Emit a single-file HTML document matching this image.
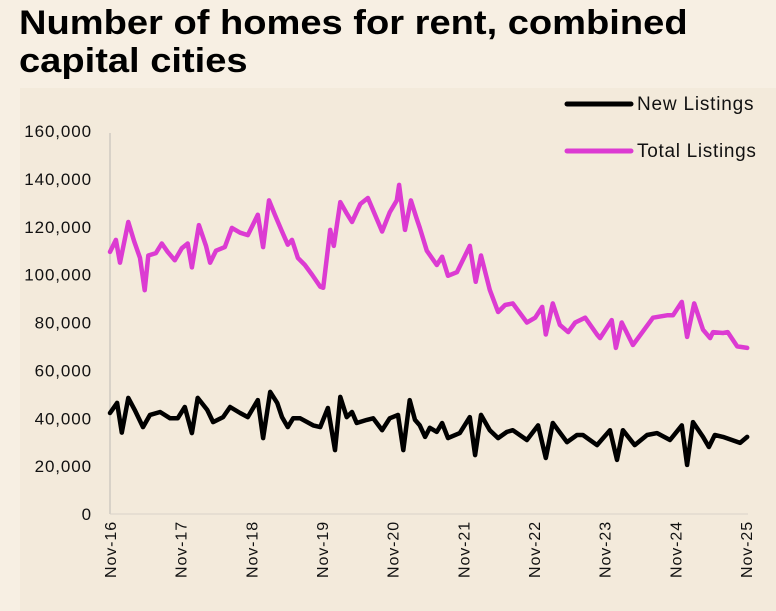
<!DOCTYPE html>
<html><head><meta charset="utf-8"><style>
html,body{margin:0;padding:0;background:#f7efe3;}
body{width:776px;height:611px;overflow:hidden;font-family:"Liberation Sans",sans-serif;}
#title{position:absolute;left:19px;top:4px;font-size:34px;font-weight:bold;line-height:38px;color:#000;transform-origin:0 0;transform:scaleX(1.12);white-space:nowrap;}
svg{position:absolute;left:0;top:0;}
</style></head><body>
<svg id="chart" width="776" height="611"></svg>
<div id="title">Number of homes for rent, combined<br>capital cities</div>
<script>
const xTickLabels=["Nov-16","Nov-17","Nov-18","Nov-19","Nov-20","Nov-21","Nov-22","Nov-23","Nov-24","Nov-25"];
const yTicks=[0,20000,40000,60000,80000,100000,120000,140000,160000];
const yTickLabels=["0","20,000","40,000","60,000","80,000","100,000","120,000","140,000","160,000"];
const totalMonths=[0,1.0,1.7,3.1,4.1,5.1,5.9,6.5,7.8,8.8,9.8,11.0,12.2,13.2,13.9,15.1,16.3,17.0,18.0,19.5,20.7,22.1,23.4,25.1,26.0,27.0,28.0,29.2,30.2,30.9,31.9,33.1,34.3,35.7,36.2,37.4,38.0,39.1,40.1,41.1,42.5,43.8,45.0,46.2,47.5,48.7,49.1,50.1,51.1,52.0,52.6,53.8,55.5,56.4,57.4,58.9,61.1,62.1,63.0,64.5,65.9,67.1,68.4,70.8,72.2,73.4,74.0,75.2,76.4,77.8,79.0,80.7,82.7,83.2,85.2,85.9,86.9,88.8,92.2,94.6,95.6,97.1,98.0,99.2,100.7,101.9,102.4,104.1,104.9,106.5,108.2];
const totalValues=[109.5,114.5,105,122,114,107,93.5,108,109,113,109.5,106,111,113,103,120.7,112,105,110,111.5,119.5,117.5,116.5,125,111.5,131,125,118,112.5,114.5,107,104,100,95,94.5,118.7,112,130.3,126,122,129.5,132,125,118,126,131,137.5,118.7,131,124,119.5,110,104,107.5,99.5,101,112,97,108,93.6,84.4,87.3,88,80,82,86.5,75,88,79,76,80,82,75,73.5,81,69.4,80,70.6,82,83,83,88.6,74,88,77,73.5,76,75.6,76,70,69.4];
const newMonths=[0,1.2,2.0,3.1,4.2,5.6,6.8,8.5,10.2,11.5,12.7,13.9,14.9,16.5,17.5,19.2,20.4,22.1,23.4,25.1,26.0,27.2,28.4,29.2,30.2,31.1,32.3,34.5,35.7,37.0,38.2,39.1,40.2,41.1,41.9,43.6,44.7,46.2,47.5,48.9,49.8,50.9,51.8,52.6,53.5,54.3,55.5,56.4,57.4,59.4,61.1,62.0,63.0,64.5,65.9,67.4,68.4,70.8,72.7,74.0,75.2,77.6,79.3,80.3,82.7,84.9,86.1,87.1,89.1,91.2,92.9,95.1,97.1,98.0,99.0,100.7,101.7,102.7,104.1,107.0,108.2];
const newValues=[42.2,46.4,34,48.5,43.5,36.3,41.4,42.6,40,40,44.7,33.8,48.5,43.5,38.4,40.5,44.7,42.2,40.5,47.6,31.7,51,46.4,40.5,36.3,40,40,37,36.3,44.3,26.7,48.9,40.5,42.6,38,39.3,40,35,40,41.4,26.7,47.6,39.3,37,32.2,36,34.3,38,31.7,33.8,40.5,24.6,41.4,35,31.7,34.3,35,30.9,37,23.4,38,30,33,33,28.8,35,22.6,35,28.8,33,33.8,30.9,37,20.5,38.4,32.2,28,33,32.2,29.7,32.2];

const svg=document.getElementById('chart');
const NS='http://www.w3.org/2000/svg';
const x0=110,x1=746,y0=514,y1=131;
const xs=m=>x0+(m/108)*(x1-x0);
const ys=v=>y0-(v/160000)*(y0-y1);
function mk(t,a){const e=document.createElementNS(NS,t);for(const k in a)e.setAttribute(k,a[k]);svg.appendChild(e);return e;}
const panel=mk('rect',{x:20,y:88,width:756,height:523,fill:'#f3eadb'});


const ax=mk('line',{x1:x0,y1:133,x2:x0,y2:y0,stroke:'#d8d2c8','stroke-width':2});


const bx=mk('line',{x1:x0,y1:y0,x2:x1+2,y2:y0,stroke:'#d8d2c8','stroke-width':1});


yTicks.forEach((v,i)=>{
  const t=mk('text',{x:92,y:ys(v)+6,'text-anchor':'end','font-size':17,'letter-spacing':0.9,fill:'#111','font-family':'Liberation Sans, sans-serif'});
  t.textContent=yTickLabels[i];
  
  
});
xTickLabels.forEach((l,i)=>{
  const x=xs(i*12);
  const t=mk('text',{x:0,y:0,'text-anchor':'end','font-size':16,'letter-spacing':0.9,fill:'#111','font-family':'Liberation Sans, sans-serif',transform:`translate(${x+6},${y0+7}) rotate(-90)`});
  t.textContent=l;
  
  
});
function line(ms,vs,color,name){
  const d=ms.map((m,i)=>(i?'L':'M')+xs(m).toFixed(1)+','+ys(vs[i]*1000).toFixed(1)).join('');
  const p=mk('path',{d:d,fill:'none',stroke:color,'stroke-width':4.5,'stroke-linejoin':'round','stroke-linecap':'round'});
  
  
}
line(totalMonths,totalValues,'#dc3bd2','total-listings-line');
line(newMonths,newValues,'#000','new-listings-line');
const l1=mk('line',{x1:567,y1:104,x2:631,y2:104,stroke:'#000','stroke-width':5,'stroke-linecap':'round'});


const t1=mk('text',{x:637,y:110,'font-size':19,'letter-spacing':0.8,fill:'#111','font-family':'Liberation Sans, sans-serif'});t1.textContent='New Listings';


const l2=mk('line',{x1:567,y1:151,x2:631,y2:151,stroke:'#dc3bd2','stroke-width':5,'stroke-linecap':'round'});


const t2=mk('text',{x:637,y:157,'font-size':19,'letter-spacing':0.7,fill:'#111','font-family':'Liberation Sans, sans-serif'});t2.textContent='Total Listings';


</script>
</body></html>
